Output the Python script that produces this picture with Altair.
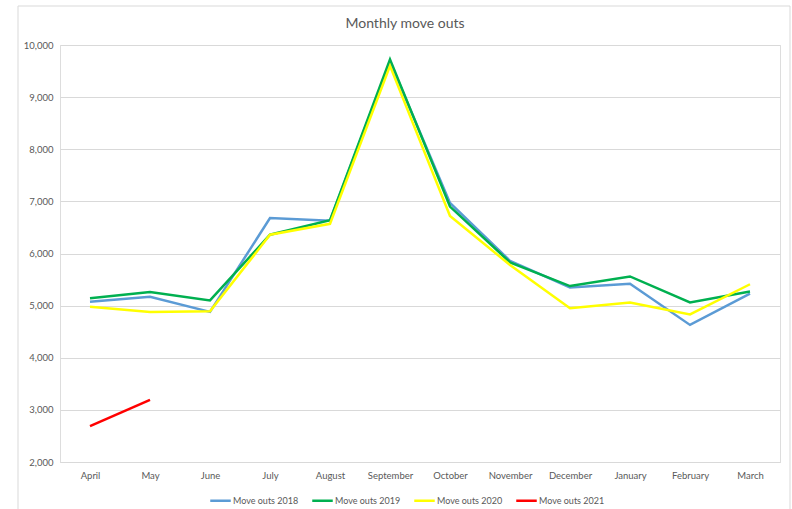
import altair as alt
import pandas as pd

months = ["April", "May", "June", "July", "August", "September",
          "October", "November", "December", "January", "February", "March"]

move_outs_2018 = [5075, 5170, 4880, 6680, 6630, 9680, 6970, 5860, 5350, 5420, 4630, 5230]
move_outs_2019 = [5140, 5260, 5100, 6360, 6640, 9725, 6900, 5830, 5375, 5560, 5060, 5270]
move_outs_2020 = [4980, 4880, 4890, 6360, 6570, 9600, 6720, 5780, 4950, 5060, 4830, 5410]
move_outs_2021 = [2690, 3190]

series_names = ["Move outs 2018", "Move outs 2019", "Move outs 2020", "Move outs 2021"]
series_values = [move_outs_2018, move_outs_2019, move_outs_2020, move_outs_2021]
series_colors = ["#5B9BD5", "#00B050", "#FFFF00", "#FF0000"]

title_text = "Monthly move outs"

rows = []
for name, values in zip(series_names, series_values):
    for order, (month, value) in enumerate(zip(months, values)):
        rows.append({"month": month, "series": name, "value": value, "order": order})
df = pd.DataFrame(rows)

FONT = "Lato"
GREY = "#595959"

lines = alt.Chart(df).mark_line(strokeWidth=2.5).encode(
    x=alt.X("month:N", sort=months, title=None,
            scale=alt.Scale(type="point", padding=0.5),
            axis=alt.Axis(labelAngle=0, ticks=False, labelPadding=8,
                          domainColor="#d9d9d9", labelColor=GREY,
                          labelFont=FONT, labelFontSize=9.5, grid=False)),
    y=alt.Y("value:Q", title=None,
            scale=alt.Scale(domain=[2000, 10000], nice=False, zero=False),
            axis=alt.Axis(values=list(range(2000, 10001, 1000)), format=",.0f",
                          ticks=False, domain=False, labelPadding=7,
                          gridColor="#d9d9d9", gridWidth=1,
                          labelColor=GREY, labelFont=FONT, labelFontSize=9.5)),
    color=alt.Color("series:N", sort=series_names,
                    scale=alt.Scale(domain=series_names, range=series_colors),
                    legend=alt.Legend(title=None, orient="none", direction="horizontal",
                                      legendX=149, legendY=444,
                                      symbolType="stroke", symbolSize=420,
                                      symbolStrokeWidth=2.5, labelOffset=1,
                                      columnPadding=8, labelColor=GREY,
                                      labelFont=FONT, labelFontSize=9)),
    order="order:Q",
)

# light frame around the whole chart
frame = alt.Chart(pd.DataFrame({"k": [0]})).mark_rect(
    fill=None, stroke="#d9d9d9", strokeWidth=1
).encode(
    x=alt.value(-42), x2=alt.value(730), y=alt.value(-39), y2=alt.value(480)
)

title = alt.Chart(pd.DataFrame({"t": [title_text]})).mark_text(
    font=FONT, fontSize=14, color=GREY, align="center", baseline="middle"
).encode(
    text="t:N", x=alt.value(345), y=alt.value(-21)
)

chart = alt.layer(frame, lines, title).properties(
    width=720,
    height=417,
    autosize=alt.AutoSizeParams(type="none"),
    padding={"left": 60, "top": 45, "right": 12, "bottom": 47},
).configure_view(stroke=None).configure(background="white")

chart.save("out.html", embed_options={"renderer": "svg", "actions": False})
